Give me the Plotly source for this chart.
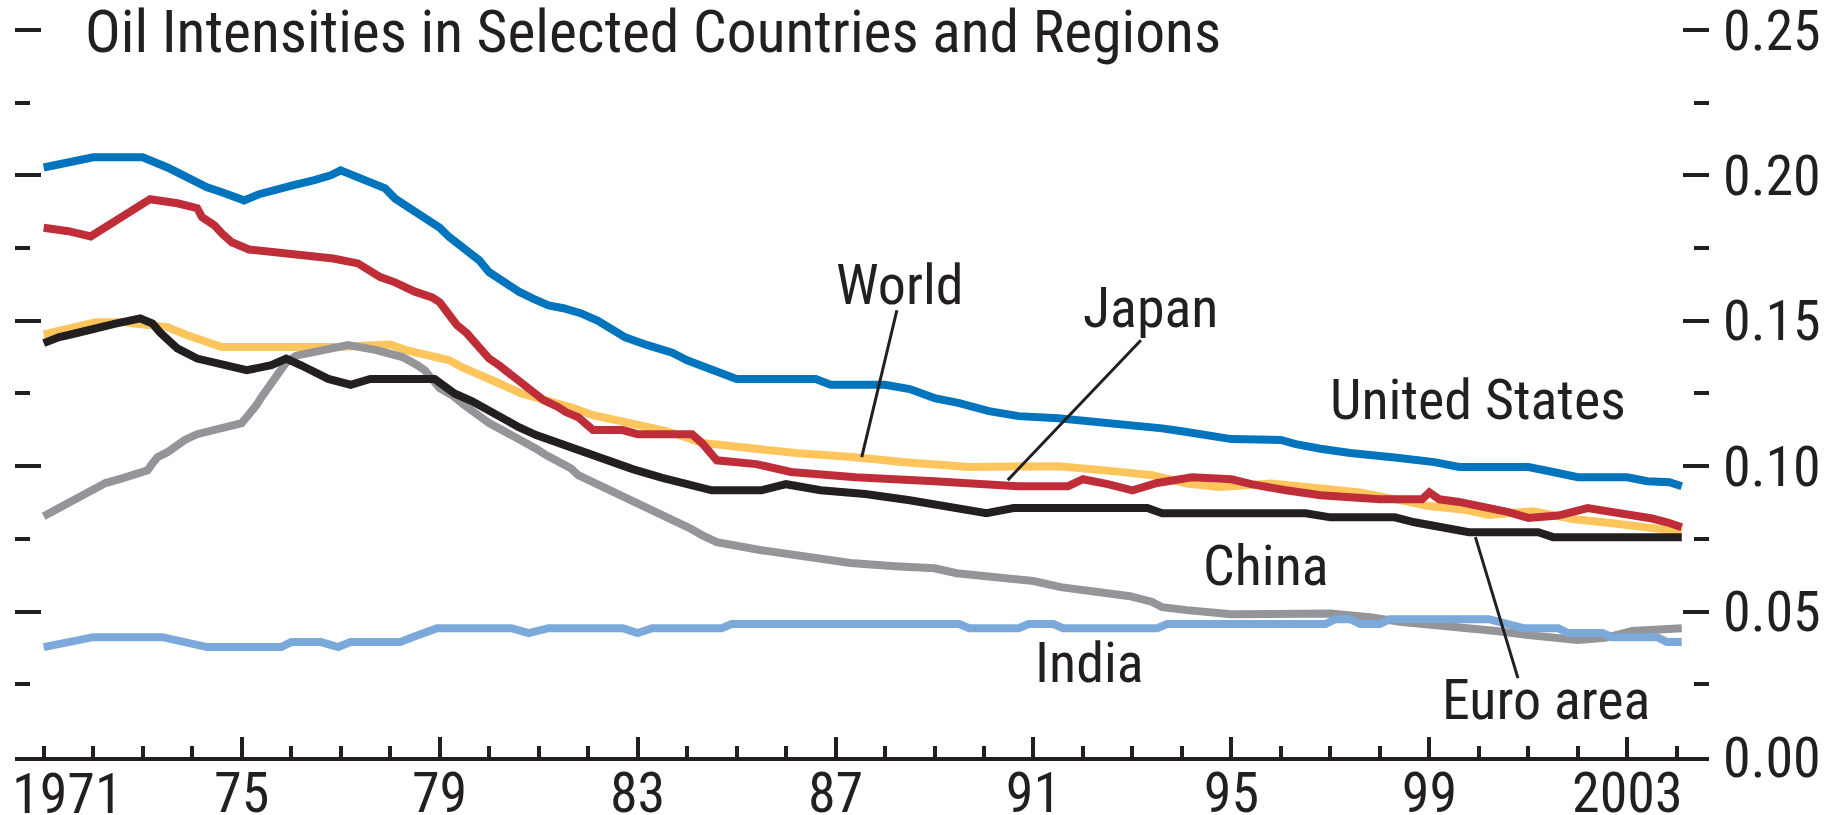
import plotly.graph_objects as go

# ---------------- data ----------------
us_years = [1971.0, 1971.5, 1972.0, 1973.0, 1973.3, 1973.5, 1973.7, 1973.9, 1974.1, 1974.3, 1974.6, 1974.85,
            1975.05, 1975.35, 1975.7, 1976.05, 1976.45, 1976.8, 1977.0, 1977.3, 1977.6, 1977.9, 1978.1, 1978.4,
            1978.7, 1979.0, 1979.2, 1979.5, 1979.8, 1980.0, 1980.3, 1980.6, 1980.9, 1981.2, 1981.5, 1981.85,
            1982.2, 1982.45, 1982.75, 1983.2, 1983.7, 1984.0, 1984.4, 1984.75, 1985.0, 1986.6, 1986.9, 1988.0,
            1988.5, 1989.0, 1989.5, 1990.1, 1990.7, 1991.5, 1992.0, 1992.6, 1993.1, 1993.6, 1994.0, 1994.5,
            1995.0, 1996.0, 1996.3, 1996.8, 1997.4, 1998.3, 1999.1, 1999.6, 2001.0, 2001.5, 2002.0, 2003.0,
            2003.4, 2003.85, 2004.1]
us_vals = [0.2027, 0.2045, 0.2062, 0.2062, 0.2045, 0.2027, 0.2010, 0.1993, 0.1976, 0.1959, 0.1942, 0.1928,
           0.1914, 0.1935, 0.1948, 0.1966, 0.1983, 0.2000, 0.2017, 0.1995, 0.1976, 0.1955, 0.1920, 0.1887,
           0.1856, 0.1820, 0.1787, 0.1749, 0.1708, 0.1667, 0.1632, 0.1600, 0.1575, 0.1553, 0.1543, 0.1526,
           0.1500, 0.1474, 0.1443, 0.1416, 0.1390, 0.1364, 0.1337, 0.1313, 0.1300, 0.1300, 0.1280, 0.1280,
           0.1265, 0.1234, 0.1217, 0.1189, 0.1172, 0.1165, 0.1158, 0.1150, 0.1137, 0.1130, 0.1120, 0.1107,
           0.1093, 0.1090, 0.1076, 0.1060, 0.1045, 0.1030, 0.1014, 0.0997, 0.0997, 0.0980, 0.0962, 0.0962,
           0.0948, 0.0945, 0.0931]

japan_years = [1971.0, 1971.5, 1971.95, 1972.2, 1972.4, 1972.65, 1972.9, 1973.15, 1973.7, 1974.1, 1974.2,
               1974.45, 1974.6, 1974.8, 1975.15, 1976.0, 1976.85, 1977.35, 1977.6, 1977.8, 1978.1, 1978.3,
               1978.5, 1978.85, 1979.0, 1979.15, 1979.35, 1979.55, 1979.7, 1979.85, 1980.0, 1980.2, 1980.4,
               1980.55, 1980.75, 1980.9, 1981.1, 1981.4, 1981.55, 1981.8, 1981.9, 1982.1, 1982.7, 1983.0,
               1984.1, 1984.3, 1984.6, 1985.4, 1986.1, 1987.4, 1989.0, 1990.7, 1991.7, 1992.0, 1992.5, 1993.0,
               1993.5, 1994.2, 1995.0, 1995.4, 1996.1, 1996.8, 1998.0, 1998.85, 1999.0, 1999.2, 1999.6, 2000.15,
               2000.6, 2001.0, 2001.6, 2002.2, 2002.9, 2003.5, 2003.8, 2004.1]
japan_vals = [0.1820, 0.1808, 0.1790, 0.1818, 0.1838, 0.1869, 0.1894, 0.1918, 0.1904, 0.1887, 0.1856,
              0.1828, 0.1800, 0.1770, 0.1745, 0.1728, 0.1714, 0.1697, 0.1673, 0.1650, 0.1632, 0.1615,
              0.1600, 0.1580, 0.1564, 0.1530, 0.1485, 0.1457, 0.1426, 0.1400, 0.1370, 0.1347, 0.1320,
              0.1296, 0.1272, 0.1250, 0.1227, 0.1203, 0.1186, 0.1168, 0.1151, 0.1124, 0.1124, 0.1110,
              0.1110, 0.1080, 0.1020, 0.1007, 0.0980, 0.0962, 0.0948, 0.0931, 0.0931, 0.0955, 0.0938, 0.0917,
              0.0942, 0.0962, 0.0955, 0.0938, 0.0917, 0.0900, 0.0886, 0.0886, 0.0910, 0.0886, 0.0877, 0.0859,
              0.0842, 0.0822, 0.0830, 0.0856, 0.0838, 0.0820, 0.0807, 0.0790]

world_years = [1971.0, 1971.6, 1972.05, 1972.6, 1973.0, 1973.5, 1973.9, 1974.35, 1974.6, 1976.9, 1977.7,
               1978.0, 1978.3, 1978.8, 1979.2, 1979.45, 1979.8, 1980.2, 1980.65, 1981.2, 1981.7, 1982.1,
               1982.6, 1983.2, 1983.6, 1984.3, 1985.3, 1986.2, 1987.4, 1988.35, 1989.7, 1991.5, 1992.6,
               1993.4, 1994.1, 1994.75, 1995.8, 1996.7, 1997.6, 1998.5, 1999.0, 1999.75, 2000.2, 2001.1,
               2001.9, 2002.7, 2003.6, 2004.1]
world_vals = [0.1453, 0.1480, 0.1495, 0.1495, 0.1490, 0.1478, 0.1450, 0.1427, 0.1410, 0.1410, 0.1418,
              0.1418, 0.1400, 0.1378, 0.1364, 0.1340, 0.1316, 0.1285, 0.1250, 0.1225, 0.1200, 0.1175,
              0.1155, 0.1134, 0.1120, 0.1080, 0.1060, 0.1045, 0.1031, 0.1014, 0.0997, 0.1000, 0.0983,
              0.0969, 0.0940, 0.0928, 0.0940, 0.0928, 0.0910, 0.0880, 0.0863, 0.0849, 0.0832, 0.0845,
              0.0818, 0.0804, 0.0787, 0.0775]

euro_years = [1971.0, 1971.3, 1971.65, 1972.0, 1972.45, 1972.95, 1973.2, 1973.35, 1973.55, 1973.7, 1974.1,
              1974.6, 1975.1, 1975.6, 1975.9, 1976.2, 1976.4, 1976.75, 1977.2, 1977.6, 1978.9, 1979.05,
              1979.3, 1979.65, 1979.9, 1980.2, 1980.6, 1980.95, 1981.4, 1981.9, 1982.45, 1982.9, 1983.5,
              1984.0, 1984.5, 1985.5, 1986.0, 1986.7, 1987.6, 1988.5, 1989.2, 1990.05, 1990.6, 1993.3,
              1993.6, 1996.5, 1997.0, 1998.3, 1998.7, 1999.2, 1999.8, 2001.2, 2001.5, 2004.1]
euro_vals = [0.1423, 0.1443, 0.1457, 0.1474, 0.1490, 0.1508, 0.1490, 0.1460, 0.1433, 0.1405, 0.1370,
             0.1347, 0.1330, 0.1347, 0.1370, 0.1347, 0.1330, 0.1300, 0.1280, 0.1300, 0.1300, 0.1280,
             0.1250, 0.1224, 0.1200, 0.1165, 0.1134, 0.1107, 0.1080, 0.1045, 0.1014, 0.0990, 0.0960,
             0.0940, 0.0917, 0.0917, 0.0938, 0.0917, 0.0904, 0.0883, 0.0863, 0.0838, 0.0856, 0.0856,
             0.0838, 0.0838, 0.0824, 0.0824, 0.0807, 0.0790, 0.0773, 0.0773, 0.0756, 0.0756]

china_years = [1971.0, 1971.3, 1971.55, 1971.8, 1972.0, 1972.25, 1972.6, 1972.9, 1973.1, 1973.2, 1973.3,
               1973.5, 1973.7, 1973.85, 1974.1, 1974.6, 1975.0, 1975.1, 1975.2, 1975.3, 1975.4, 1975.5,
               1975.6, 1975.7, 1975.8, 1975.9, 1976.1, 1976.65, 1977.15, 1977.7, 1978.25, 1978.55, 1978.7,
               1979.0, 1979.25, 1979.5, 1979.7, 1979.8, 1980.0, 1980.2, 1980.45, 1980.75, 1980.95, 1981.15,
               1981.4, 1981.65, 1981.8, 1982.1, 1982.35, 1982.6, 1982.9, 1983.2, 1983.45, 1983.75, 1984.05,
               1984.3, 1984.6, 1985.5, 1986.5, 1987.3, 1988.2, 1989.0, 1989.45, 1990.1, 1991.0, 1991.55,
               1992.25, 1992.95, 1993.4, 1993.6, 1994.1, 1995.0, 1997.0, 1997.8, 1998.4, 1999.4, 2000.35,
               2001.0, 2002.0, 2002.55, 2003.1, 2004.1]
china_vals = [0.0828, 0.0856, 0.0876, 0.0900, 0.0917, 0.0942, 0.0959, 0.0975, 0.0986, 0.1010, 0.1031,
              0.1048, 0.1072, 0.1090, 0.1110, 0.1130, 0.1148, 0.1168, 0.1186, 0.1210, 0.1237, 0.1260,
              0.1285, 0.1306, 0.1330, 0.1357, 0.1380, 0.1400, 0.1416, 0.1400, 0.1375, 0.1347, 0.1330,
              0.1268, 0.1244, 0.1210, 0.1186, 0.1168, 0.1148, 0.1130, 0.1107, 0.1083, 0.1060, 0.1038,
              0.1014, 0.0993, 0.0969, 0.0945, 0.0924, 0.0907, 0.0883, 0.0859, 0.0838, 0.0814, 0.0787,
              0.0763, 0.0739, 0.0711, 0.0687, 0.0667, 0.0656, 0.0649, 0.0632, 0.0618, 0.0605, 0.0584,
              0.0567, 0.0553, 0.0533, 0.0515, 0.0505, 0.0491, 0.0493, 0.0481, 0.0465, 0.0450, 0.0433,
              0.0419, 0.0402, 0.0410, 0.0433, 0.0443]

india_years = [1971.0, 1971.6, 1972.0, 1973.4, 1973.8, 1974.3, 1975.8, 1976.0, 1976.6, 1976.95, 1977.2,
               1978.2, 1978.45, 1978.7, 1978.95, 1980.45, 1980.8, 1981.2, 1982.7, 1983.0, 1983.3, 1984.7,
               1984.9, 1989.5, 1989.7, 1990.7, 1990.9, 1991.4, 1991.6, 1993.5, 1993.7, 1996.9, 1997.1,
               1997.4, 1997.6, 1998.0, 1998.2, 2000.2, 2000.5, 2000.9, 2001.6, 2001.8, 2002.5, 2002.7,
               2003.6, 2003.8, 2004.1]
india_vals = [0.0378, 0.0395, 0.0412, 0.0412, 0.0395, 0.0378, 0.0378, 0.0395, 0.0395, 0.0378, 0.0395,
              0.0395, 0.0412, 0.0426, 0.0443, 0.0443, 0.0426, 0.0443, 0.0443, 0.0426, 0.0443, 0.0443,
              0.0457, 0.0457, 0.0443, 0.0443, 0.0457, 0.0457, 0.0443, 0.0443, 0.0457, 0.0457, 0.0474,
              0.0474, 0.0457, 0.0457, 0.0474, 0.0474, 0.0460, 0.0443, 0.0443, 0.0426, 0.0426, 0.0412,
              0.0412, 0.0395, 0.0395]

major_years = [1971, 1975, 1979, 1983, 1987, 1991, 1995, 1999, 2003]
major_labels = ["", "75", "79", "83", "87", "91", "95", "99", "2003"]
first_label = "1971"
minor_years = list(range(1971, 2005))
y_ticks = [0.0, 0.05, 0.10, 0.15, 0.20, 0.25]
y_minor_ticks = [0.025, 0.075, 0.125, 0.175, 0.225]
title_text = "Oil Intensities in Selected Countries and Regions"

# ---------------- styling ----------------
FONT = "'Roboto Condensed', 'PT Sans Narrow', 'DejaVu Sans Condensed', sans-serif"
INK = "#231F20"
FS = 56
LW = 8

# bottom-to-top drawing order; the last one is drawn on the overlaid right axis
series = [
    ("World", world_years, world_vals, "#FDC55B", "y"),
    ("China", china_years, china_vals, "#939598", "y"),
    ("India", india_years, india_vals, "#7BA9DA", "y"),
    ("Euro area", euro_years, euro_vals, "#231F20", "y"),
    ("Japan", japan_years, japan_vals, "#BF2E38", "y"),
    ("United States", us_years, us_vals, "#0075BE", "y2"),
]

fig = go.Figure()
for name, xs, ys, col, ax in series:
    fig.add_trace(go.Scatter(x=xs, y=ys, mode="lines", name=name, yaxis=ax,
                             line=dict(color=col, width=LW), showlegend=False,
                             hoverinfo="skip"))

tick_common = dict(ticks="inside", tickwidth=4, tickcolor=INK)
Y_RANGE = [0, 0.251]

fig.update_layout(
    width=1843, height=815,
    margin=dict(l=15, r=133.5, t=27.1, b=58, autoexpand=False),
    paper_bgcolor="white", plot_bgcolor="white",
    font=dict(family=FONT, size=FS, color=INK),
    showlegend=False,
    xaxis=dict(range=[1970.42, 2004.65], showgrid=False, zeroline=False,
               showline=True, linewidth=4, linecolor=INK,
               tickmode="array", tickvals=major_years, ticktext=major_labels,
               ticklen=20, **tick_common,
               minor=dict(tickmode="array", tickvals=minor_years, ticklen=11, **tick_common),
               tickfont=dict(family=FONT, size=FS, color=INK),
               ticklabelstandoff=-16, ticklabeloverflow="allow",
               automargin=False, fixedrange=True),
    yaxis=dict(range=Y_RANGE, side="left", showgrid=False, zeroline=False,
               showline=False, showticklabels=False,
               tickmode="array", tickvals=y_ticks, ticklen=26, **tick_common,
               minor=dict(tickmode="array", tickvals=y_minor_ticks, ticklen=15, **tick_common),
               automargin=False, fixedrange=True),
    yaxis2=dict(range=Y_RANGE, side="right", overlaying="y", anchor="x",
                showgrid=False, zeroline=False, showline=False,
                tickmode="array", tickvals=y_ticks, tickformat=".2f",
                ticklen=26, **tick_common,
                minor=dict(tickmode="array", tickvals=y_minor_ticks, ticklen=15, **tick_common),
                tickfont=dict(family=FONT, size=FS, color=INK),
                ticklabelstandoff=13, ticklabeloverflow="allow",
                automargin=False, fixedrange=True),
)

ann = dict(showarrow=False, font=dict(family=FONT, size=FS, color=INK),
           xanchor="center", yanchor="middle")
labels = [
    ("World", 1988.30, 0.1624),
    ("Japan", 1993.37, 0.1545),
    ("United States", 1999.99, 0.1229),
    ("China", 1995.70, 0.0656),
    ("India", 1992.14, 0.0323),
    ("Euro area", 2001.36, 0.0196),
]
for txt, x, y in labels:
    fig.add_annotation(text=txt, x=x, y=y, xref="x", yref="y", **ann)

# first year label sits right of its tick in the original
fig.add_annotation(text=first_label, x=1971.48, y=-0.0502, xref="x", yref="paper", **ann)

fig.add_annotation(text=title_text, xref="x", yref="y", x=1971.80, y=0.2494,
                   xanchor="left", yanchor="middle", showarrow=False,
                   font=dict(family=FONT, size=59.5, color=INK))

leaders = [
    ((1988.24, 0.1536), (1987.53, 0.1031)),
    ((1993.17, 0.1433), (1990.48, 0.0952)),
    ((1999.93, 0.0756), (2000.79, 0.0271)),
]
for (x0, y0), (x1, y1) in leaders:
    fig.add_shape(type="line", xref="x", yref="y", x0=x0, y0=y0, x1=x1, y1=y1,
                  line=dict(color=INK, width=3))

fig.write_html("out.html", config={"displayModeBar": False},
               post_script="document.body.style.margin='0px';")
